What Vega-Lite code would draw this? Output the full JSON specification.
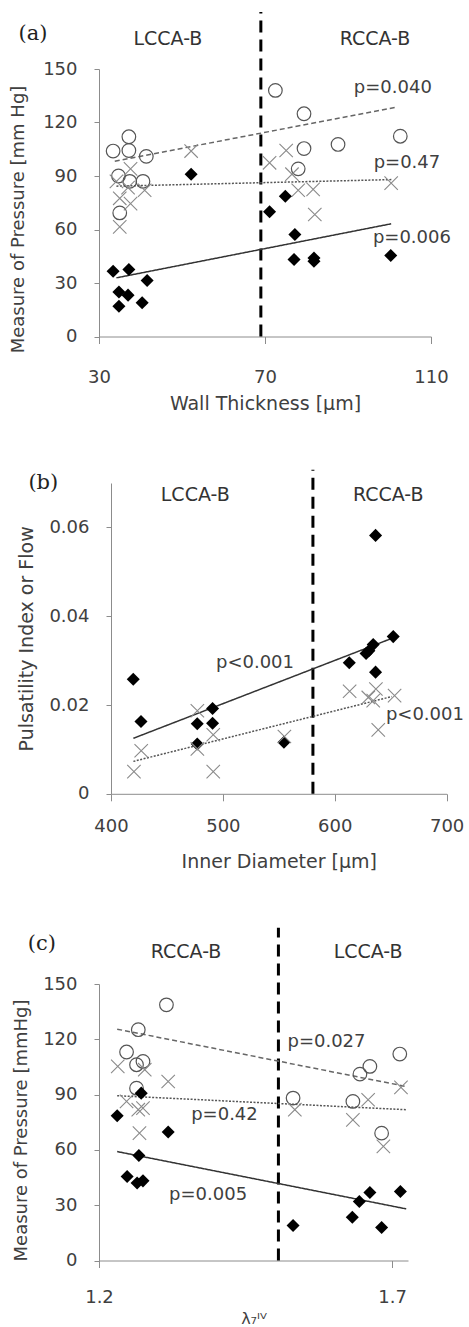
{
  "$schema": "https://vega.github.io/schema/vega-lite/v6.json",
  "background": "white",
  "padding": {"left": 9, "top": 10, "right": 0, "bottom": 0},
  "spacing": 54,
  "config": {
    "view": {"stroke": null},
    "font": "DejaVu Sans",
    "axis": {"grid": false, "domainColor": "#8c8c8c", "tickColor": "#8c8c8c", "labelColor": "#404040", "titleColor": "#404040", "labelFont": "DejaVu Sans", "titleFont": "DejaVu Sans", "labelFontSize": 18, "titleFontSize": 19, "titleFontWeight": "normal", "labelFlush": false, "labelOverlap": false, "domainWidth": 1, "tickWidth": 1}
  },
  "datasets": {
    "a_circ": [{"x":33.4,"y":104},{"x":37.2,"y":112},{"x":37.2,"y":104.3},{"x":41.4,"y":101},{"x":34.7,"y":90},{"x":37.4,"y":87},{"x":40.6,"y":87},{"x":35,"y":69.3},{"x":72.5,"y":138},{"x":79.4,"y":124.9},{"x":79.4,"y":105.4},{"x":87.6,"y":107.7},{"x":102.6,"y":112.3},{"x":78,"y":94}],
    "a_cross": [{"x":34.2,"y":87},{"x":37.6,"y":94},{"x":37,"y":83.5},{"x":41,"y":82},{"x":35,"y":77.5},{"x":37.6,"y":74.5},{"x":35,"y":61.5},{"x":52.2,"y":104},{"x":71.1,"y":97.4},{"x":75.1,"y":104.3},{"x":76.5,"y":91},{"x":78,"y":82},{"x":81.6,"y":82.5},{"x":82,"y":68.4},{"x":100.4,"y":86}],
    "a_diam": [{"x":33.4,"y":36.6},{"x":37.2,"y":37.6},{"x":41.6,"y":31.4},{"x":34.8,"y":25},{"x":37,"y":23.2},{"x":34.8,"y":17},{"x":40.4,"y":18.9},{"x":52.2,"y":91},{"x":71.1,"y":69.9},{"x":74.9,"y":78.7},{"x":77.2,"y":57.2},{"x":77,"y":43.2},{"x":81.8,"y":42.2},{"x":81.8,"y":44},{"x":100.3,"y":45.4}],
    "a_trend": [{"s":"circle","x":33.8,"y":98.3},{"s":"circle","x":101.7,"y":128.6},{"s":"cross","x":34.2,"y":84.3},{"s":"cross","x":100.8,"y":88},{"s":"diamond","x":34.2,"y":32.9},{"s":"diamond","x":100.4,"y":63.2}],
    "a_p": [{"x":100.8,"y":139.1,"t":"p=0.040"},{"x":104.2,"y":97.4,"t":"p=0.47"},{"x":105.4,"y":55.3,"t":"p=0.006"}],
    "a_reg": [{"x":46.6,"y":166.7,"t":"LCCA-B"},{"x":96.5,"y":166.7,"t":"RCCA-B"}],
    "a_tag": [{"x":14.1,"y":169.5,"t":"(a)"}],
    "a_div": [{"x":69,"y":0,"y2":182}],
    "b_diam": [{"x":419.9,"y":0.0258},{"x":426.8,"y":0.0163},{"x":477.1,"y":0.0158},{"x":490.8,"y":0.0192},{"x":490.8,"y":0.0159},{"x":477.1,"y":0.0112},{"x":554.6,"y":0.0116},{"x":613,"y":0.0295},{"x":628,"y":0.0316},{"x":630.5,"y":0.0322},{"x":634.4,"y":0.0336},{"x":636.5,"y":0.0274},{"x":652.3,"y":0.0354},{"x":636.5,"y":0.0582}],
    "b_cross": [{"x":420.5,"y":0.005},{"x":427,"y":0.0097},{"x":477.2,"y":0.0187},{"x":477.2,"y":0.0101},{"x":491.4,"y":0.0133},{"x":491.4,"y":0.005},{"x":555,"y":0.0129},{"x":613.3,"y":0.0231},{"x":630,"y":0.0217},{"x":634.4,"y":0.021},{"x":636.8,"y":0.0236},{"x":653.5,"y":0.0221},{"x":638.9,"y":0.0144}],
    "b_trend": [{"s":"diamond","x":420,"y":0.0125},{"s":"diamond","x":652,"y":0.0351},{"s":"cross","x":420,"y":0.0073},{"s":"cross","x":651,"y":0.0219}],
    "b_p": [{"x":528.7,"y":0.0294,"t":"p<0.001"},{"x":680.6,"y":0.0178,"t":"p<0.001"}],
    "b_reg": [{"x":475.3,"y":0.0673,"t":"LCCA-B"},{"x":647.8,"y":0.0673,"t":"RCCA-B"}],
    "b_tag": [{"x":339.5,"y":0.07,"t":"(b)"}],
    "b_div": [{"x":580.5,"y":0,"y2":0.073}],
    "c_circ": [{"x":1.315,"y":138.7},{"x":1.267,"y":125.2},{"x":1.247,"y":113.1},{"x":1.264,"y":106.2},{"x":1.275,"y":108},{"x":1.264,"y":93.5},{"x":1.531,"y":88.1},{"x":1.633,"y":86.3},{"x":1.645,"y":101.1},{"x":1.662,"y":105.3},{"x":1.682,"y":69.1},{"x":1.713,"y":112}],
    "c_cross": [{"x":1.232,"y":105.3},{"x":1.278,"y":103.5},{"x":1.318,"y":97.1},{"x":1.247,"y":86.3},{"x":1.267,"y":81.8},{"x":1.275,"y":82.7},{"x":1.269,"y":69.1},{"x":1.534,"y":81.8},{"x":1.633,"y":76.3},{"x":1.659,"y":87.2},{"x":1.685,"y":61.9},{"x":1.715,"y":93.9}],
    "c_diam": [{"x":1.231,"y":78.5},{"x":1.272,"y":90.8},{"x":1.318,"y":69.7},{"x":1.268,"y":57},{"x":1.248,"y":45.6},{"x":1.265,"y":42},{"x":1.275,"y":43.2},{"x":1.531,"y":19},{"x":1.632,"y":23.5},{"x":1.644,"y":32},{"x":1.662,"y":36.9},{"x":1.682,"y":17.9},{"x":1.714,"y":37.4}],
    "c_trend": [{"s":"circle","x":1.231,"y":125.5},{"s":"circle","x":1.724,"y":94.4},{"s":"cross","x":1.231,"y":89.4},{"s":"cross","x":1.724,"y":81.8},{"s":"diamond","x":1.231,"y":59.1},{"s":"diamond","x":1.724,"y":28}],
    "c_p": [{"x":1.588,"y":118.8,"t":"p=0.027"},{"x":1.414,"y":79,"t":"p=0.42"},{"x":1.386,"y":35.6,"t":"p=0.005"}],
    "c_reg": [{"x":1.3485,"y":167.6,"t":"RCCA-B"},{"x":1.659,"y":167.6,"t":"LCCA-B"}],
    "c_tag": [{"x":1.1027,"y":171.8,"t":"(c)"}],
    "c_div": [{"x":1.506,"y":0,"y2":180.5}]
  },
  "vconcat": [
    {
      "width": 332, "height": 267.5,
      "encoding": {
        "x": {"field": "x", "type": "quantitative", "scale": {"domain": [30, 110], "nice": false, "zero": false},
              "axis": {"values": [30, 70, 110], "title": "Wall Thickness [μm]", "tickSize": 7, "labelPadding": 25, "titlePadding": 8}},
        "y": {"field": "y", "type": "quantitative", "scale": {"domain": [0, 150], "nice": false, "zero": false},
              "axis": {"values": [0, 30, 60, 90, 120, 150], "title": "Measure of Pressure [mm Hg]", "titleFontSize": 18, "tickSize": 5, "labelPadding": 17, "titlePadding": 15, "titleY": 150}}
      },
      "layer": [
        {"data": {"name": "a_div"}, "mark": {"type": "rule", "color": "black", "strokeWidth": 3, "strokeDash": [12, 7]}, "encoding": {"y2": {"field": "y2"}}},
        {"data": {"name": "a_trend"}, "mark": {"type": "line", "strokeWidth": 1.5},
         "encoding": {"color": {"field": "s", "type": "nominal", "scale": {"domain": ["circle", "cross", "diamond"], "range": ["#666666", "#555555", "#333333"]}, "legend": null},
                      "strokeDash": {"field": "s", "type": "nominal", "scale": {"domain": ["circle", "cross", "diamond"], "range": [[5, 3], [2, 1.5], [1, 0]]}, "legend": null}}},
        {"data": {"name": "a_circ"}, "mark": {"type": "point", "shape": "circle", "filled": false, "stroke": "#555555", "strokeWidth": 1.2, "size": 185, "opacity": 1}},
        {"data": {"name": "a_cross"}, "mark": {"type": "point", "shape": "M-1,-1L1,1M-1,1L1,-1", "filled": false, "stroke": "#8a8a8a", "strokeWidth": 1.1, "size": 180, "opacity": 1}},
        {"data": {"name": "a_diam"}, "mark": {"type": "point", "shape": "diamond", "filled": true, "fill": "black", "size": 170, "opacity": 1}},
        {"data": {"name": "a_p"}, "mark": {"type": "text", "font": "DejaVu Sans", "fontSize": 18, "color": "#404040"}, "encoding": {"text": {"field": "t"}}},
        {"data": {"name": "a_reg"}, "mark": {"type": "text", "font": "DejaVu Sans", "fontSize": 19, "color": "#333333"}, "encoding": {"text": {"field": "t"}}},
        {"data": {"name": "a_tag"}, "mark": {"type": "text", "font": "DejaVu Serif", "fontSize": 21, "color": "#222222"}, "encoding": {"text": {"field": "t"}}}
      ]
    },
    {
      "width": 347.6, "height": 310.8,
      "encoding": {
        "x": {"field": "x", "type": "quantitative", "scale": {"domain": [400, 700], "range": [12, 347.6], "nice": false, "zero": false},
              "axis": {"values": [400, 500, 600, 700], "title": "Inner Diameter [μm]", "tickSize": 7, "labelPadding": 17, "titlePadding": 17}},
        "y": {"field": "y", "type": "quantitative", "scale": {"domain": [0, 0.07], "nice": false, "zero": false},
              "axis": {"values": [0, 0.02, 0.04, 0.06], "format": "~g", "title": "Pulsatility Index or Flow", "tickSize": 5, "labelPadding": 17, "titlePadding": 12, "offset": -12}}
      },
      "layer": [
        {"data": {"name": "b_div"}, "mark": {"type": "rule", "color": "black", "strokeWidth": 3, "strokeDash": [12, 7]}, "encoding": {"y2": {"field": "y2"}}},
        {"data": {"name": "b_trend"}, "mark": {"type": "line", "strokeWidth": 1.5},
         "encoding": {"color": {"field": "s", "type": "nominal", "scale": {"domain": ["circle", "cross", "diamond"], "range": ["#666666", "#555555", "#333333"]}, "legend": null},
                      "strokeDash": {"field": "s", "type": "nominal", "scale": {"domain": ["circle", "cross", "diamond"], "range": [[5, 3], [2, 1.5], [1, 0]]}, "legend": null}}},
        {"data": {"name": "b_diam"}, "mark": {"type": "point", "shape": "diamond", "filled": true, "fill": "black", "size": 170, "opacity": 1}},
        {"data": {"name": "b_cross"}, "mark": {"type": "point", "shape": "M-1,-1L1,1M-1,1L1,-1", "filled": false, "stroke": "#8a8a8a", "strokeWidth": 1.1, "size": 180, "opacity": 1}},
        {"data": {"name": "b_p"}, "mark": {"type": "text", "font": "DejaVu Sans", "fontSize": 18, "color": "#404040"}, "encoding": {"text": {"field": "t"}}},
        {"data": {"name": "b_reg"}, "mark": {"type": "text", "font": "DejaVu Sans", "fontSize": 19, "color": "#333333"}, "encoding": {"text": {"field": "t"}}},
        {"data": {"name": "b_tag"}, "mark": {"type": "text", "font": "DejaVu Serif", "fontSize": 21, "color": "#222222"}, "encoding": {"text": {"field": "t"}}}
      ]
    },
    {
      "width": 309, "height": 276.5,
      "encoding": {
        "x": {"field": "x", "type": "quantitative", "scale": {"domain": [1.2, 1.727], "nice": false, "zero": false},
              "axis": {"values": [1.2, 1.7], "format": ".1f", "title": "λ₇ᴵⱽ", "titleFontSize": 16, "tickSize": 7, "labelPadding": 21, "titlePadding": 4}},
        "y": {"field": "y", "type": "quantitative", "scale": {"domain": [0, 150], "nice": false, "zero": false},
              "axis": {"values": [0, 30, 60, 90, 120, 150], "title": "Measure of Pressure [mmHg]", "titleFontSize": 18, "tickSize": 5, "labelPadding": 17, "titlePadding": 12, "titleY": 146}}
      },
      "layer": [
        {"data": {"name": "c_div"}, "mark": {"type": "rule", "color": "black", "strokeWidth": 3, "strokeDash": [12, 7]}, "encoding": {"y2": {"field": "y2"}}},
        {"data": {"name": "c_trend"}, "mark": {"type": "line", "strokeWidth": 1.5},
         "encoding": {"color": {"field": "s", "type": "nominal", "scale": {"domain": ["circle", "cross", "diamond"], "range": ["#666666", "#555555", "#333333"]}, "legend": null},
                      "strokeDash": {"field": "s", "type": "nominal", "scale": {"domain": ["circle", "cross", "diamond"], "range": [[5, 3], [2, 1.5], [1, 0]]}, "legend": null}}},
        {"data": {"name": "c_circ"}, "mark": {"type": "point", "shape": "circle", "filled": false, "stroke": "#555555", "strokeWidth": 1.2, "size": 185, "opacity": 1}},
        {"data": {"name": "c_cross"}, "mark": {"type": "point", "shape": "M-1,-1L1,1M-1,1L1,-1", "filled": false, "stroke": "#8a8a8a", "strokeWidth": 1.1, "size": 180, "opacity": 1}},
        {"data": {"name": "c_diam"}, "mark": {"type": "point", "shape": "diamond", "filled": true, "fill": "black", "size": 170, "opacity": 1}},
        {"data": {"name": "c_p"}, "mark": {"type": "text", "font": "DejaVu Sans", "fontSize": 18, "color": "#404040"}, "encoding": {"text": {"field": "t"}}},
        {"data": {"name": "c_reg"}, "mark": {"type": "text", "font": "DejaVu Sans", "fontSize": 19, "color": "#333333"}, "encoding": {"text": {"field": "t"}}},
        {"data": {"name": "c_tag"}, "mark": {"type": "text", "font": "DejaVu Serif", "fontSize": 21, "color": "#222222"}, "encoding": {"text": {"field": "t"}}}
      ]
    }
  ]
}
